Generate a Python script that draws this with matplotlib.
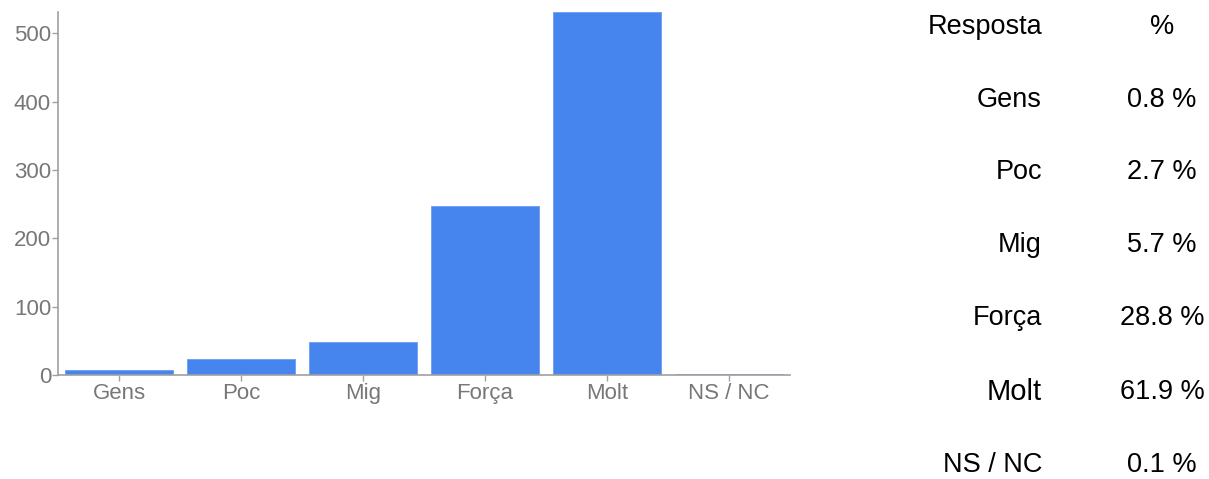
import numpy as np
import matplotlib
matplotlib.use("Agg")
import matplotlib.pyplot as plt

plt.rcParams['font.family'] = ['Liberation Sans', 'DejaVu Sans']

categories = ["Gens", "Poc", "Mig", "Força", "Molt", "NS / NC"]
counts = [7, 23, 49, 247, 531, 1]
percent_labels = ["0.8 %", "2.7 %", "5.7 %", "28.8 %", "61.9 %", "0.1 %"]
yticks = [0, 100, 200, 300, 400, 500]

fig = plt.figure(figsize=(12.09, 4.79), dpi=100)
ax = fig.add_axes([58/1209, 1 - 375/479, (790 - 58)/1209, (375 - 12)/479])

x = np.arange(len(categories))
ax.bar(x, counts, width=0.89, color='#4684ee', edgecolor='#6a9cf2', linewidth=0.6)

ax.set_xlim(-0.5, len(categories) - 0.5)
ax.set_ylim(0, 531)
ax.set_xticks(x)
ax.set_xticklabels(categories)
ax.set_yticks(yticks)

for s in ['top', 'right']:
    ax.spines[s].set_visible(False)
for s in ['left', 'bottom']:
    ax.spines[s].set_color('#a0a0a0')
    ax.spines[s].set_linewidth(1.2)

ax.tick_params(axis='both', colors='#a0a0a0', labelcolor='#777777', labelsize=16, length=4, width=1)
ax.tick_params(axis='x', pad=2)
ax.tick_params(axis='y', pad=1)

# tabela a direita
fig.text(1042/1209, 1 - 27/479, "Resposta", ha='right', va='center', fontsize=19.5, color='black')
fig.text(1162/1209, 1 - 27/479, "%", ha='center', va='center', fontsize=19.5, color='black')
row_y = [100, 172, 245, 318, 392, 465]
for cat, pct, yy in zip(categories, percent_labels, row_y):
    fs = 21 if cat == "Molt" else 19.5
    fig.text(1042/1209, 1 - yy/479, cat, ha='right', va='center', fontsize=fs, color='black')
    fig.text(1162/1209, 1 - yy/479, pct, ha='center', va='center', fontsize=19.5, color='black')

fig.savefig("out.png", dpi=100)
